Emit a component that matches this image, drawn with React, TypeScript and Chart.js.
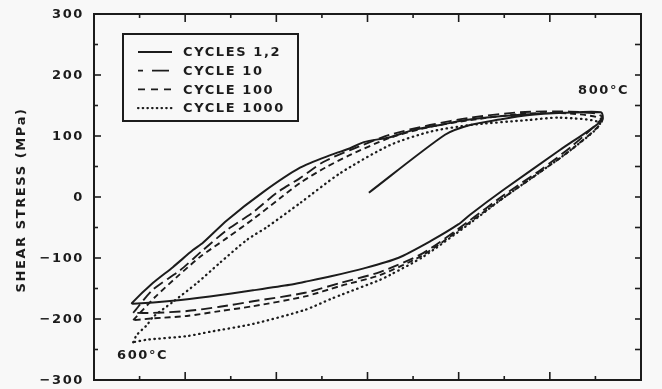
import React, { useEffect, useRef } from "react";
import { Chart, registerables } from "chart.js";

Chart.register(...registerables);

// ---- data ----
const cycles12X = [6.03, 7.7, 8.25, 8.9, 9.5, 10.31, 11.12, 11.15, 10.22, 8.97, 8.25, 7.99, 7.39, 6.67, 5.92, 5.2, 4.63, 4.3, 3.49, 2.54, 1.73, 0.86, 0.83, 1.29, 1.73, 2.17, 2.39, 2.92, 3.71, 4.52, 5.2, 5.62, 5.92, 6.49, 7.02, 7.59, 8.12, 9.21, 10.31, 11.12];
const cycles12Y = [7, 102, 118, 127, 134, 138, 139, 126, 77, 11, -29, -45, -72, -100, -117, -130, -139, -144, -153, -163, -170, -175, -174, -141, -115, -87, -75, -38, 8, 48, 69, 80, 90, 98, 110, 118, 126, 134, 138, 139];

const cycle10X = [0.86, 1.29, 1.89, 2.39, 2.92, 3.49, 4.01, 4.52, 5.02, 5.62, 6.49, 7.37, 8.25, 9.35, 10.44, 11.0, 11.15, 10.51, 9.79, 8.97, 8.25, 7.22, 6.27, 5.4, 4.63, 3.49, 2.76, 2.04, 1.29, 0.86];
const cycle10Y = [-190, -152, -120, -87, -54, -25, 7, 31, 57, 77, 102, 118, 130, 139, 140, 137, 130, 85, 44, 2, -38, -92, -123, -141, -157, -171, -180, -187, -190, -190];

const cycle100X = [0.86, 1.34, 1.82, 2.33, 2.92, 3.53, 4.08, 4.52, 5.07, 5.62, 6.49, 7.37, 8.25, 9.35, 10.44, 11.15, 10.51, 9.79, 8.97, 8.25, 7.22, 6.27, 5.4, 4.63, 3.49, 2.76, 2.04, 1.29, 0.86];
const cycle100Y = [-202, -164, -131, -98, -67, -34, -2, 23, 48, 69, 97, 115, 126, 136, 137, 126, 80, 41, -2, -41, -95, -128, -146, -163, -179, -187, -195, -199, -202];

const cycle1000X = [0.86, 0.94, 1.16, 1.29, 1.73, 2.26, 2.76, 3.36, 3.8, 4.52, 5.4, 6.49, 7.37, 8.25, 9.5, 10.22, 11.1, 10.51, 9.79, 8.97, 8.25, 7.22, 6.49, 6.27, 5.4, 5.2, 4.63, 3.49, 2.54, 2.04, 1.16, 0.86];
const cycle1000Y = [-238, -226, -210, -197, -172, -141, -108, -70, -49, -10, 39, 85, 107, 118, 126, 130, 121, 80, 41, -2, -43, -98, -128, -136, -161, -167, -185, -208, -221, -228, -234, -238];

const seriesLabels = ["CYCLES 1,2", "CYCLE 10", "CYCLE 100", "CYCLE 1000"];
const yMajorTicks = [-300, -200, -100, 0, 100, 200, 300];
const yMinorTicks = [-250, -150, -50, 50, 150, 250];
const xMajorTicks = [2, 4, 6, 8, 10];
const xMinorTicks = [1, 3, 5, 7, 9, 11];
const yAxisTitle = "SHEAR STRESS (MPa)";
const hotLabel = "800°C";
const coldLabel = "600°C";

// ---- styles ----
const INK = "#1c1c1c";
const BG = "#f8f8f8";
const FONT = "bold 13px 'DejaVu Sans'";
const SPACING = "1.6px";
const dashes: number[][] = [[], [11, 5], [6, 4], [0.5, 4.5]];
const legendDashes: number[][] = [[], [17, 9], [7, 6], [0.5, 4.2]];
const legendOffsets = [0, 12, 0, 0];

const toPts = (xs: number[], ys: number[]) => xs.map((x, i) => ({ x, y: ys[i] }));

const fmt = (v: number) => (v < 0 ? "\u2212" + Math.abs(v) : String(v));

const decor = {
  id: "decor",
  beforeDraw(chart: any) {
    const { ctx, width, height } = chart;
    ctx.save();
    ctx.fillStyle = BG;
    ctx.fillRect(0, 0, width, height);
    ctx.restore();
  },
  afterDraw(chart: any) {
    const { ctx, chartArea: a, scales } = chart;
    const xs = scales.x;
    const ys = scales.y;
    ctx.save();
    ctx.strokeStyle = INK;
    ctx.fillStyle = INK;
    ctx.lineWidth = 2;
    ctx.setLineDash([]);
    ctx.strokeRect(a.left, a.top, a.right - a.left, a.bottom - a.top);

    ctx.lineWidth = 1.6;
    const line = (x1: number, y1: number, x2: number, y2: number) => {
      ctx.beginPath();
      ctx.moveTo(x1, y1);
      ctx.lineTo(x2, y2);
      ctx.stroke();
    };
    // y ticks (inward)
    yMajorTicks.forEach((v) => {
      const p = ys.getPixelForValue(v);
      line(a.left, p, a.left + 7, p);
      line(a.right, p, a.right - 6, p);
    });
    yMinorTicks.forEach((v) => {
      const p = ys.getPixelForValue(v);
      line(a.left, p, a.left + 4, p);
      line(a.right, p, a.right - 6, p);
    });
    xMajorTicks.forEach((v) => {
      const p = xs.getPixelForValue(v);
      line(p, a.top, p, a.top + 8);
      line(p, a.bottom, p, a.bottom - 8);
    });
    xMinorTicks.forEach((v) => {
      const p = xs.getPixelForValue(v);
      line(p, a.top, p, a.top + 4);
      line(p, a.bottom, p, a.bottom - 4);
    });

    // text
    ctx.font = FONT;
    (ctx as any).letterSpacing = SPACING;
    ctx.textBaseline = "middle";
    ctx.textAlign = "right";
    yMajorTicks.forEach((v) => {
      const p = ys.getPixelForValue(v);
      ctx.fillText(fmt(v), a.left - 10, p + 1);
    });

    ctx.textAlign = "center";
    ctx.save();
    ctx.translate(22, (a.top + a.bottom) / 2 + 3);
    ctx.rotate(-Math.PI / 2);
    ctx.fillText(yAxisTitle, 0, 0);
    ctx.restore();

    ctx.textAlign = "left";
    ctx.fillText(hotLabel, a.right - 63, a.top + 77);
    ctx.fillText(coldLabel, a.left + 23, a.bottom - 24);

    // legend box
    const bx = a.left + 29;
    const by = a.top + 20;
    const bw = 175;
    const bh = 87;
    ctx.lineWidth = 2;
    ctx.strokeRect(bx, by, bw, bh);
    seriesLabels.forEach((lab, i) => {
      const ry = by + 18 + i * 18.7;
      ctx.save();
      ctx.lineWidth = i === 3 ? 2.2 : 1.8;
      ctx.lineCap = i === 3 ? "round" : "butt";
      ctx.setLineDash(legendDashes[i]);
      ctx.lineDashOffset = legendOffsets[i];
      line(bx + 15, ry, bx + 49, ry);
      ctx.restore();
      ctx.fillText(lab, bx + 60, ry + 1);
    });
    ctx.restore();
  },
};

export default function App() {
  const ref = useRef<HTMLCanvasElement | null>(null);
  useEffect(() => {
    if (!ref.current) return;
    const base = {
      showLine: true,
      pointRadius: 0,
      fill: false,
      borderColor: INK,
      tension: 0.25,
    };
    const chart = new Chart(ref.current, {
      type: "scatter",
      data: {
        datasets: [
          { ...base, label: seriesLabels[0], data: toPts(cycles12X, cycles12Y), borderWidth: 2, borderDash: dashes[0] },
          { ...base, label: seriesLabels[1], data: toPts(cycle10X, cycle10Y), borderWidth: 1.9, borderDash: dashes[1] },
          { ...base, label: seriesLabels[2], data: toPts(cycle100X, cycle100Y), borderWidth: 1.9, borderDash: dashes[2] },
          { ...base, label: seriesLabels[3], data: toPts(cycle1000X, cycle1000Y), borderWidth: 2.3, borderDash: dashes[3], borderCapStyle: "round" },
        ] as any,
      },
      options: {
        responsive: false,
        animation: false,
        layout: { padding: { left: 94, right: 21, top: 14, bottom: 9 } },
        scales: {
          x: { type: "linear", min: 0, max: 12, display: false },
          y: { type: "linear", min: -300, max: 300, display: false },
        },
        plugins: { legend: { display: false }, tooltip: { enabled: false } },
      },
      plugins: [decor],
    });
    return () => chart.destroy();
  }, []);
  return (
    <div style={{ position: "fixed", left: 0, top: 0, width: 662, height: 389, background: BG }}>
      <canvas ref={ref} width={662} height={389} style={{ display: "block" }} />
    </div>
  );
}
